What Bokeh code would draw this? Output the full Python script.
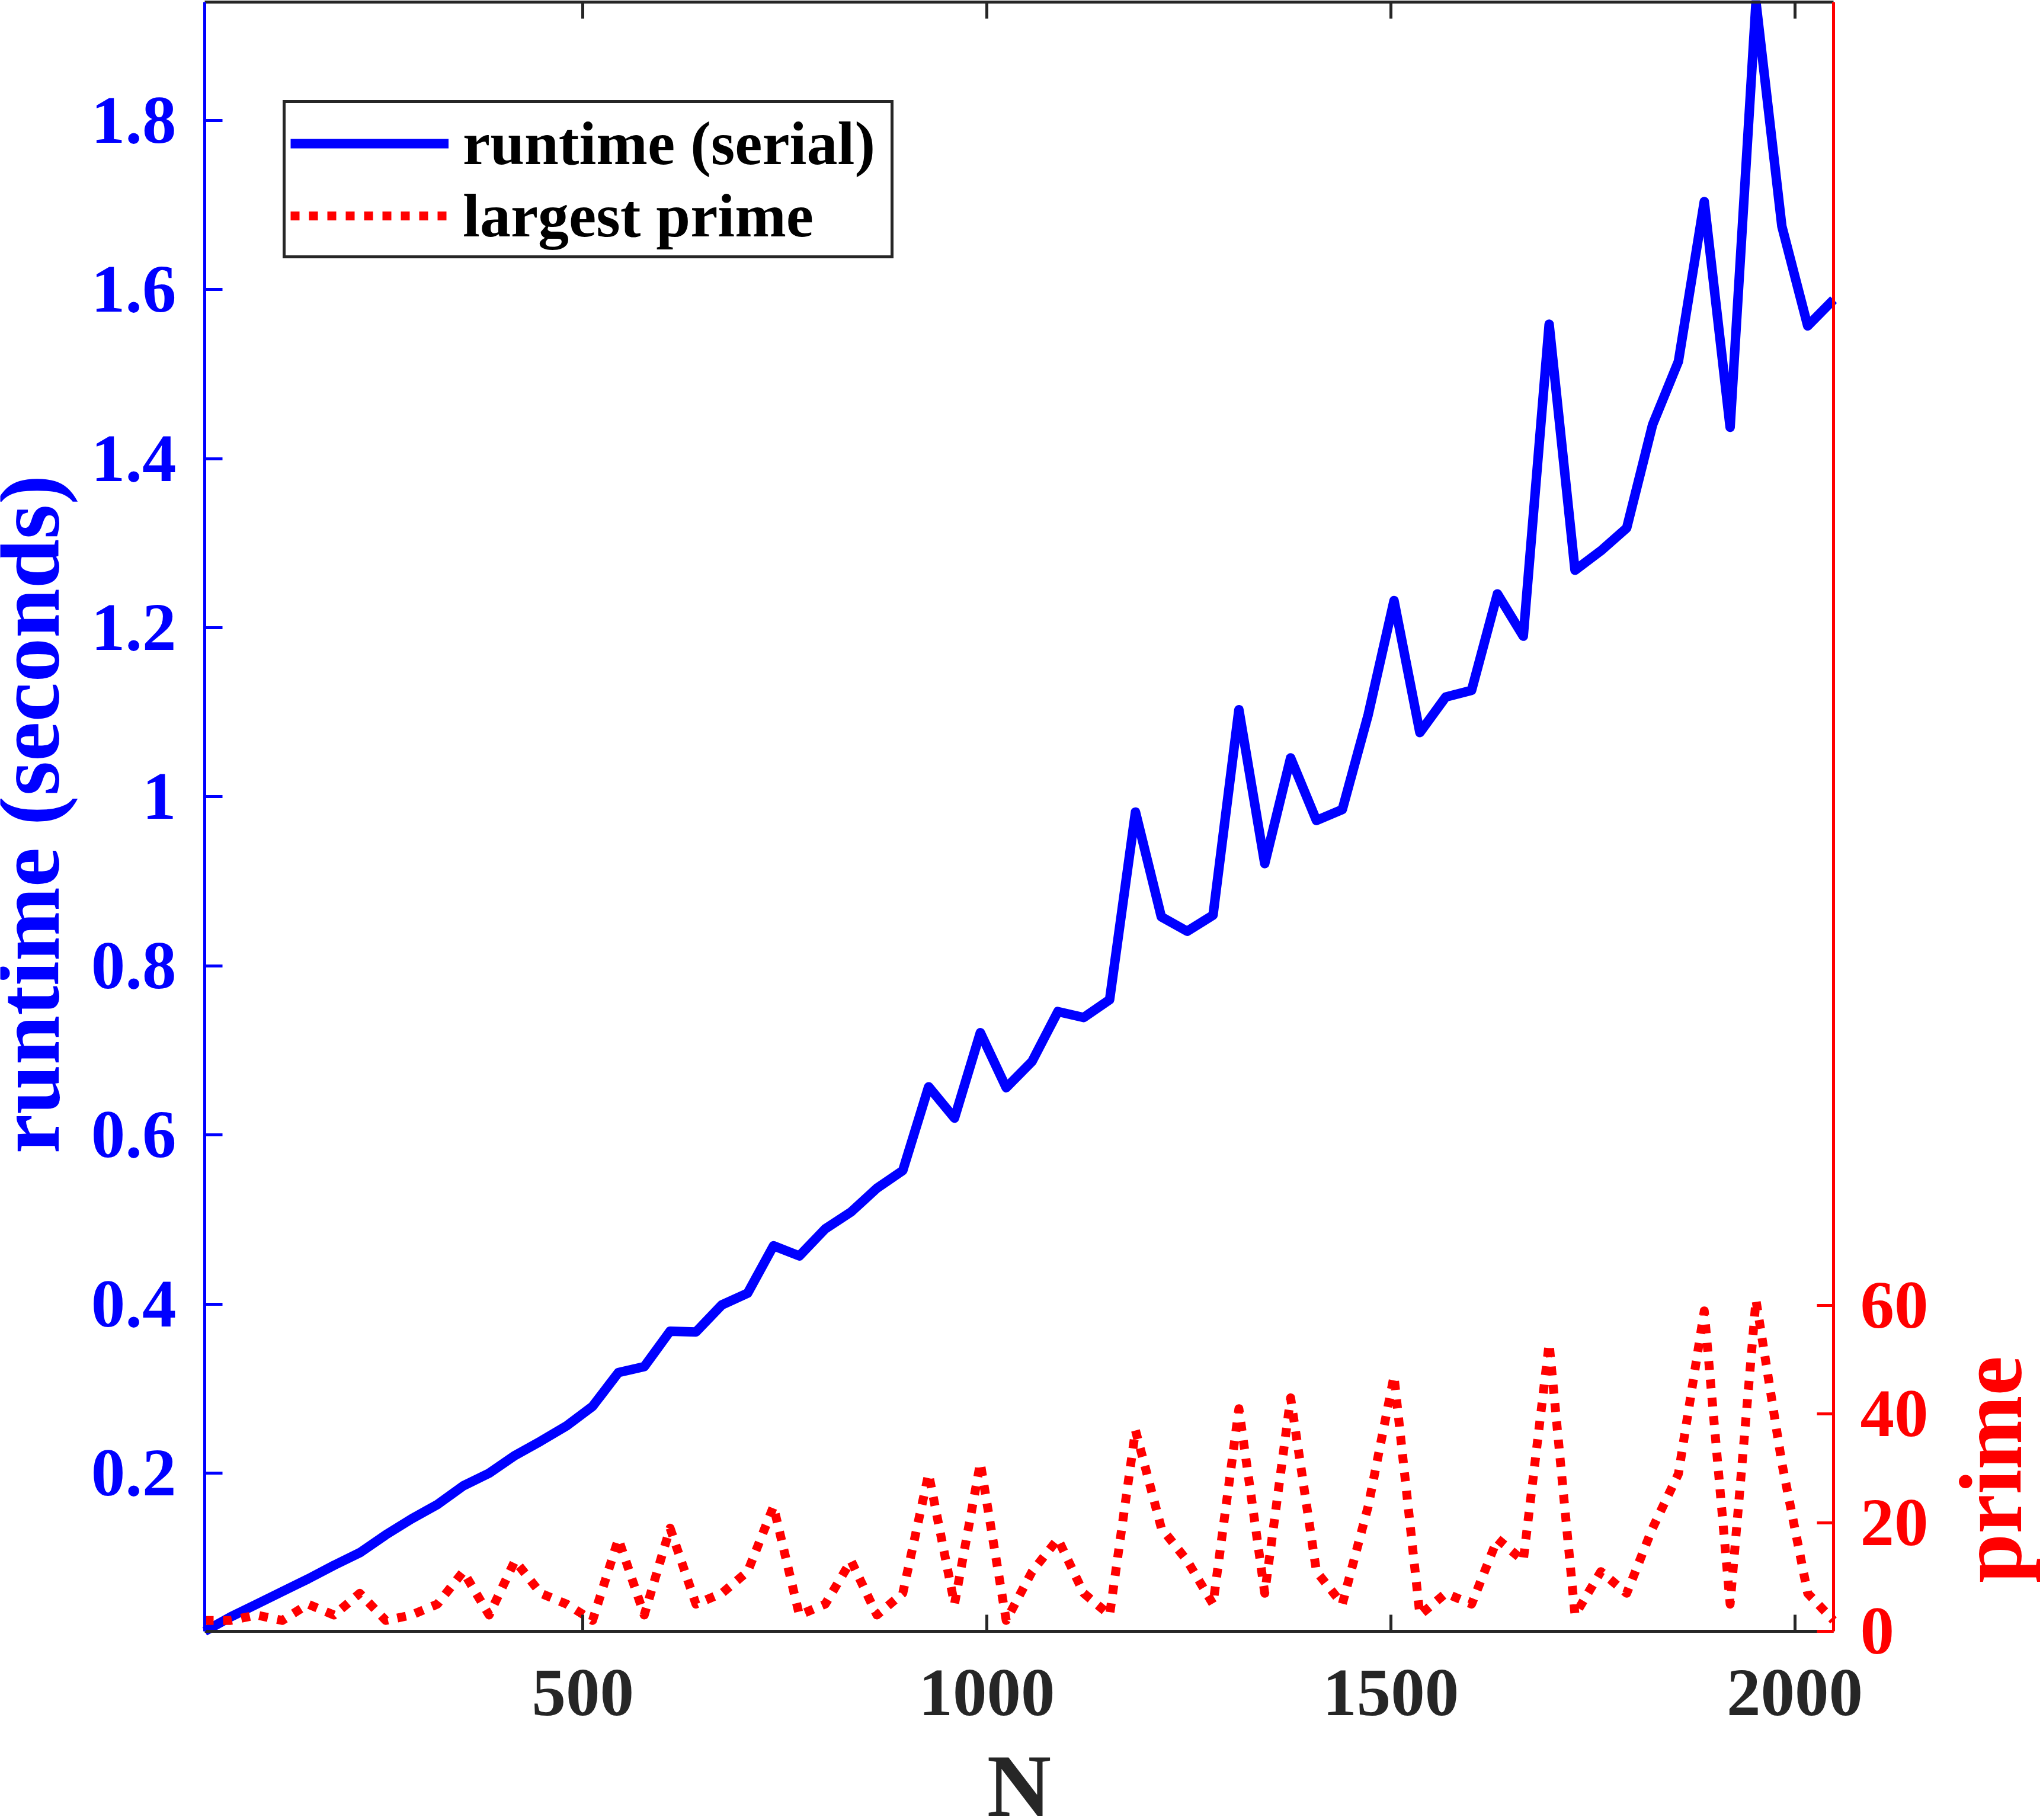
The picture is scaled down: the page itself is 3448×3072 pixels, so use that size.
import math
from bokeh.plotting import figure
from bokeh.models import (Range1d, LinearAxis, FixedTicker, Legend, LegendItem,
                          Label, ColumnDataSource)
from bokeh.embed import file_html
from bokeh.resources import INLINE

# ---------------- data ----------------
N = [32, 64, 96, 128, 160, 192, 224, 256, 288, 320, 352, 384, 416, 448, 480, 512,
     544, 576, 608, 640, 672, 704, 736, 768, 800, 832, 864, 896, 928, 960, 992, 1024,
     1056, 1088, 1120, 1152, 1184, 1216, 1248, 1280, 1312, 1344, 1376, 1408, 1440, 1472, 1504, 1536,
     1568, 1600, 1632, 1664, 1696, 1728, 1760, 1792, 1824, 1856, 1888, 1920, 1952, 1984, 2016, 2048]

runtime_serial = [0.013, 0.030, 0.045, 0.060, 0.075, 0.091, 0.106, 0.127,
                  0.146, 0.163, 0.185, 0.200, 0.221, 0.238, 0.256, 0.279,
                  0.319, 0.326, 0.368, 0.367, 0.399, 0.413, 0.469, 0.457,
                  0.489, 0.509, 0.537, 0.558, 0.657, 0.620, 0.721, 0.656,
                  0.687, 0.746, 0.739, 0.760, 0.982, 0.858, 0.841, 0.860,
                  1.103, 0.921, 1.046, 0.972, 0.985, 1.097, 1.232, 1.076,
                  1.118, 1.126, 1.240, 1.190, 1.559, 1.268, 1.291, 1.318,
                  1.440, 1.515, 1.704, 1.437, 1.940, 1.675, 1.557, 1.588]

largest_prime = [2, 2, 3, 2, 5, 3, 7, 2, 3, 5, 11, 3, 13, 7, 5, 2,
                 17, 3, 19, 5, 7, 11, 23, 3, 5, 13, 3, 7, 29, 5, 31, 2,
                 11, 17, 7, 3, 37, 19, 13, 5, 41, 7, 43, 11, 5, 23, 47, 3,
                 7, 5, 17, 13, 53, 3, 11, 7, 19, 29, 59, 5, 61, 31, 7, 2]

x_ticks = [500, 1000, 1500, 2000]
x_tick_labels = ["500", "1000", "1500", "2000"]
left_ticks = [0.2, 0.4, 0.6, 0.8, 1.0, 1.2, 1.4, 1.6, 1.8]
left_tick_labels = ["0.2", "0.4", "0.6", "0.8", "1", "1.2", "1.4", "1.6", "1.8"]
right_ticks = [0, 20, 40, 60]
right_tick_labels = ["0", "20", "40", "60"]

series_labels = ["runtime (serial)", "largest prime"]
x_label = "N"
left_label = "runtime (seconds)"
right_label = "prime"

# axis limits
XMIN, XMAX = 32, 2048
YMIN, YMAX = 0.013, 1.94
Y2MIN, Y2MAX = 0, 300

# ---------------- layout / styling ----------------
FONT = "Liberation Serif"
DARK = "#262626"
BLUE = "#0000FF"
RED = "#FF0000"
W, H = 3448, 3072
PL, PR, PT, PB = 345, 3094, 3, 2753          # data-box edges on the canvas (px)
LAB_SHIFT = 55                                # label anchor offset (px)

# the frame fills the whole canvas; ranges are widened so the data box sits at PL..PR, PT..PB
sx = (XMAX - XMIN) / (PR - PL)
sy = (YMAX - YMIN) / (PB - PT)
sy2 = (Y2MAX - Y2MIN) / (PB - PT)
x_rng = Range1d(XMIN - PL * sx, XMAX + (W - PR) * sx)
y_rng = Range1d(YMIN - (H - PB) * sy, YMAX + PT * sy)
y2_rng = Range1d(Y2MIN - (H - PB) * sy2, Y2MAX + PT * sy2)

p = figure(width=W, height=H, output_backend="svg", toolbar_location=None,
           x_range=x_rng, y_range=y_rng,
           min_border=0, min_border_left=0, min_border_right=0,
           min_border_top=0, min_border_bottom=0,
           x_axis_location=None, y_axis_location=None)
p.extra_y_ranges = {"prime": y2_rng}
p.outline_line_color = None
p.background_fill_color = "white"
p.border_fill_color = "white"
for g in p.grid:
    g.visible = False


def style_axis(ax, color, tick_in, standoff, label_color, size="115px"):
    ax.axis_line_color = color
    ax.axis_line_width = 5
    ax.major_tick_line_color = color
    ax.major_tick_line_width = 5
    ax.major_tick_in = tick_in
    ax.major_tick_out = 0
    ax.minor_tick_line_color = None
    ax.major_label_text_font = FONT
    ax.major_label_text_font_style = "bold"
    ax.major_label_text_font_size = size
    ax.major_label_text_color = label_color
    ax.major_label_standoff = standoff


xb = LinearAxis(ticker=FixedTicker(ticks=x_ticks), fixed_location=YMIN, bounds=(XMIN, XMAX),
                major_label_overrides=dict(zip(x_ticks, x_tick_labels)))
style_axis(xb, DARK, 28, 66, DARK)
p.add_layout(xb, "below")

xt = LinearAxis(ticker=FixedTicker(ticks=x_ticks), fixed_location=YMAX, bounds=(XMIN, XMAX),
                major_label_overrides={t: "" for t in x_ticks})
style_axis(xt, DARK, 28, 0, DARK, size="0px")
p.add_layout(xt, "above")

yl = LinearAxis(ticker=FixedTicker(ticks=left_ticks), fixed_location=XMIN, bounds=(YMIN, YMAX),
                major_label_overrides=dict(zip(left_ticks, left_tick_labels)))
style_axis(yl, BLUE, 30, 48, BLUE)
p.add_layout(yl, "left")

yr = LinearAxis(y_range_name="prime", ticker=FixedTicker(ticks=right_ticks),
                fixed_location=XMAX, bounds=(Y2MIN, Y2MAX),
                major_label_overrides=dict(zip(right_ticks, right_tick_labels)))
style_axis(yr, RED, 28, 45, RED)
p.add_layout(yr, "right")

src = ColumnDataSource(dict(N=N, runtime=runtime_serial, prime=largest_prime))
r1 = p.line("N", "runtime", source=src, line_color=BLUE, line_width=16,
            line_join="round")
r2 = p.line("N", "prime", source=src, y_range_name="prime", line_color=RED,
            line_width=15, line_dash="15 16", line_join="round", line_cap="butt")

legend = Legend(items=[LegendItem(label=series_labels[0], renderers=[r1]),
                       LegendItem(label=series_labels[1], renderers=[r2])],
                location=(477, H - 436), orientation="vertical",
                label_text_font=FONT, label_text_font_style="bold",
                label_text_font_size="104px", label_text_color="#000000",
                glyph_width=267, glyph_height=110, label_height=110, label_width=714,
                label_standoff=24, spacing=3, padding=8, margin=0,
                border_line_color=DARK, border_line_width=5, border_line_alpha=1.0,
                background_fill_color="white", background_fill_alpha=1.0)
p.add_layout(legend, "center")

lab_common = dict(x_units="screen", y_units="screen", text_font=FONT,
                  text_font_style="bold", text_font_size="150px",
                  text_baseline="alphabetic", text_align="center")
p.add_layout(Label(x=102 - LAB_SHIFT, y=H - 1374, text=left_label, angle=math.pi / 2,
                   text_color=BLUE, **lab_common))
p.add_layout(Label(x=3414 - LAB_SHIFT, y=H - 2480, text=right_label, angle=math.pi / 2,
                   text_color=RED, **lab_common))
p.add_layout(Label(x=(PL + PR) / 2, y=H - 3068 + LAB_SHIFT, text=x_label, angle=0,
                   text_color=DARK, **lab_common))

open("out.html", "w").write(file_html(p, INLINE))
